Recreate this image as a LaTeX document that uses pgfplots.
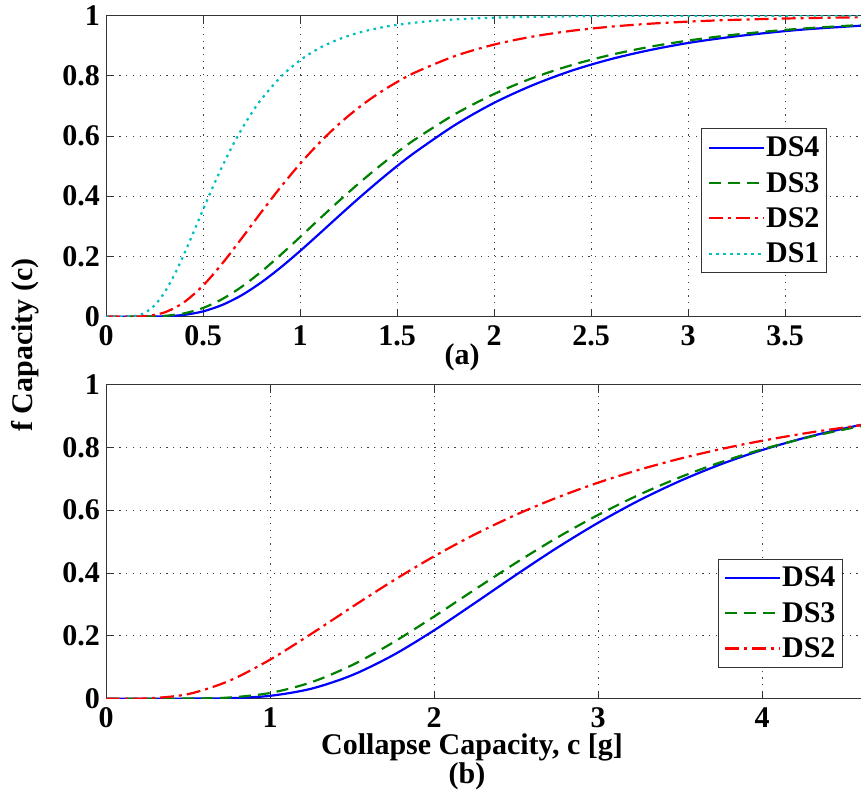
\documentclass[border=0pt]{standalone}
\usepackage{pgfplots}
\pgfplotsset{compat=1.18}
\usepackage{fontspec}
\setmainfont{Liberation Serif}
\definecolor{mblue}{rgb}{0,0,1}
\definecolor{mgreen}{rgb}{0,0.5,0}
\definecolor{mred}{rgb}{1,0,0}
\definecolor{mcyan}{rgb}{0,0.75,0.75}
\newcommand{\myfont}{\rmfamily\bfseries\fontsize{30}{35}\selectfont}
\pgfplotsset{
  myaxis/.style={
    scale only axis,
    ymin=0, ymax=1,
    ytick={0,0.2,0.4,0.6,0.8,1},
    yticklabels={0,0.2,0.4,0.6,0.8,1},
    tick align=inside,
    major tick length=8pt,
    tick style={black!80, line width=0.8pt},
    axis line style={black!80, line width=1pt},
    grid=major,
    major grid style={black!75, line width=0.9pt, dash pattern=on 1.2pt off 5.5pt},
    tick label style={font=\myfont, inner sep=0pt},
    xticklabel style={yshift=-9pt},
    yticklabel style={xshift=-6pt},
    legend cell align=left,
    legend image code/.code={\draw[#1] (0pt,0pt) -- (55pt,0pt);},
    legend style={font=\myfont, draw=black!80, line width=0.9pt,
      inner xsep=6pt, inner ysep=7pt, row sep=12pt,
      nodes={inner sep=1pt}},
  },
  ds4/.style={mblue, solid, line width=2.2pt},
  ds3/.style={mgreen, line width=2.2pt, dash pattern=on 12pt off 7pt},
  ds2/.style={mred, line width=2.2pt, dash pattern=on 14pt off 5pt on 3pt off 5pt},
  ds1/.style={mcyan, line width=2.2pt, dash pattern=on 2.5pt off 4.5pt},
}
\begin{document}
\begin{tikzpicture}
\begin{axis}[myaxis,
  at={(0pt,0pt)}, anchor=south west,
  width=776pt, height=301pt,
  xmin=0, xmax=4,
  xtick={0,0.5,1,1.5,2,2.5,3,3.5},
  xticklabels={0,0.5,1,1.5,2,2.5,3,3.5},
  legend style={at={(0.929,0.625)}, anchor=north east},
]
\addplot[ds4, smooth] coordinates {
(0,0) (0.2,0) (0.3,0.001) (0.4,0.0055) (0.5,0.0173) (0.6,0.039) (0.7,0.0713)
(0.8,0.1134) (0.9,0.163) (1.0,0.2177) (1.1,0.2754) (1.2,0.334) (1.3,0.3916)
(1.4,0.447) (1.5,0.5) (1.6,0.549) (1.8,0.637) (2.0,0.710) (2.2,0.769)
(2.4,0.817) (2.6,0.855) (2.8,0.885) (3.0,0.909) (3.2,0.9274) (3.4,0.942)
(3.6,0.954) (3.88,0.966) (4.0,0.970)};
\addlegendentry{DS4}
\addplot[ds3, smooth] coordinates {
(0,0) (0.2,0.0002) (0.3,0.0023) (0.4,0.0104) (0.5,0.0286) (0.6,0.0585) (0.7,0.0994)
(0.8,0.149) (0.9,0.205) (1.0,0.264) (1.1,0.3243) (1.2,0.3836) (1.3,0.4408)
(1.4,0.4948) (1.5,0.5452) (1.6,0.5917) (1.8,0.673) (2.0,0.7394) (2.2,0.7928)
(2.4,0.8355) (2.6,0.8692) (2.8,0.8959) (3.0,0.917) (3.2,0.9337) (3.4,0.9468)
(3.6,0.9573) (3.88,0.9684) (4.0,0.972)};
\addlegendentry{DS3}
\addplot[ds2, smooth] coordinates {
(0,0) (0.1,0) (0.2,0.0015) (0.3,0.0135) (0.4,0.0467) (0.5,0.103) (0.6,0.1769)
(0.7,0.2605) (0.8,0.3466) (0.9,0.43) (1.0,0.5074) (1.1,0.5774) (1.2,0.6392)
(1.3,0.693) (1.4,0.7395) (1.5,0.7792) (1.6,0.813) (1.8,0.8659) (2.0,0.9036)
(2.2,0.9304) (2.4,0.9495) (2.6,0.9631) (2.8,0.9729) (3.0,0.980) (3.2,0.9851)
(3.4,0.9888) (3.6,0.9916) (3.88,0.9943) (4.0,0.995)};
\addlegendentry{DS2}
\addplot[ds1, smooth] coordinates {
(0,0) (0.1,0.0001) (0.15,0.0023) (0.2,0.0125) (0.25,0.037) (0.3,0.0786)
(0.35,0.1357) (0.4,0.204) (0.45,0.2786) (0.5,0.355) (0.55,0.4295) (0.6,0.5)
(0.65,0.565) (0.7,0.6235) (0.75,0.6756) (0.8,0.7214) (0.9,0.796) (1.0,0.8514)
(1.1,0.892) (1.2,0.9214) (1.3,0.9427) (1.4,0.958) (1.5,0.9693) (1.7,0.9832)
(2.0,0.993) (2.5,0.9982) (3.0,0.9995) (4.0,1.0)};
\addlegendentry{DS1}
\end{axis}
\begin{axis}[myaxis,
  at={(0pt,-68pt)}, anchor=north west,
  width=779pt, height=314pt,
  xmin=0, xmax=4.75,
  xtick={0,1,2,3,4},
  xticklabels={0,1,2,3,4},
  legend style={at={(0.946,0.446)}, anchor=north east},
]
\addplot[ds4, smooth] coordinates {
(0,0) (0.5,0) (0.75,0.0012) (1.0,0.0088) (1.25,0.0313) (1.5,0.0745) (1.75,0.1382)
(2.0,0.2172) (2.25,0.3047) (2.5,0.394) (2.75,0.4802) (3.0,0.5598) (3.25,0.631)
(3.5,0.6931) (3.75,0.7465) (4.0,0.7915) (4.3,0.836) (4.6,0.8714) (4.75,0.886)};
\addlegendentry{DS4}
\addplot[ds3, smooth] coordinates {
(0,0) (0.5,0.0002) (0.75,0.0034) (1.0,0.0179) (1.25,0.0517) (1.5,0.1065) (1.75,0.1786)
(2.0,0.2612) (2.25,0.3477) (2.5,0.4325) (2.75,0.5124) (3.0,0.5848) (3.25,0.649)
(3.5,0.7049) (3.75,0.753) (4.0,0.7938) (4.3,0.8345) (4.6,0.8674) (4.75,0.881)};
\addlegendentry{DS3}
\addplot[ds2, smooth] coordinates {
(0,0) (0.25,0.0006) (0.5,0.0142) (0.75,0.0564) (1.0,0.1239) (1.25,0.2056) (1.5,0.2916)
(1.75,0.3752) (2.0,0.453) (2.25,0.5232) (2.5,0.5855) (2.75,0.6401) (3.0,0.6876)
(3.25,0.7287) (3.5,0.7642) (3.75,0.7948) (4.0,0.8211) (4.3,0.848) (4.6,0.8705) (4.75,0.881)};
\addlegendentry{DS2}
\end{axis}
\node[font=\myfont, rotate=90, inner sep=0pt] at (-81pt,-28.4pt) {f Capacity (c)};
\node[font=\myfont, inner sep=0pt] at (356pt,-40.4pt) {(a)};
\node[font=\myfont, inner sep=0pt] at (366pt,-431pt) {Collapse Capacity, c [g]};
\node[font=\myfont, inner sep=0pt] at (361pt,-460pt) {(b)};
\pgfresetboundingbox
\useasboundingbox (-106pt,-473pt) rectangle (755pt,316.6pt);
\end{tikzpicture}
\end{document}
